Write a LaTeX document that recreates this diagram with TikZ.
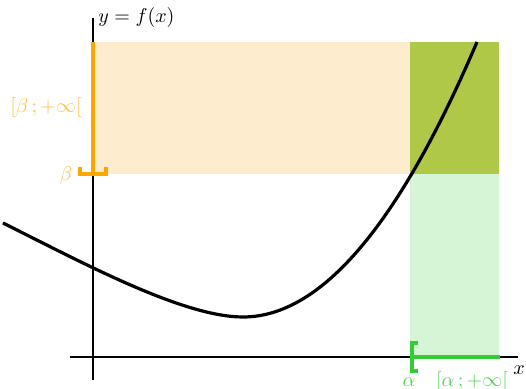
\documentclass[tikz,border=0pt]{standalone}
\usepackage{amsmath, amssymb}
\usepackage{xcolor}
\usetikzlibrary{positioning}

\definecolor{orangevif}{RGB}{255,165,0}
\definecolor{orangepale}{RGB}{254,236,206}
\definecolor{orangelab}{RGB}{255,190,80}
\definecolor{vertvif}{RGB}{50,205,50}
\definecolor{vertpale}{RGB}{214,245,214}
\definecolor{vertlab}{RGB}{90,210,90}
\definecolor{olivemix}{RGB}{176,200,72}

\begin{document}
\begin{tikzpicture}[
  x=0.5pt, y=0.5pt,
  axe/.style={line width=0.9pt},
  graphe/.style={line width=1.6pt},
  crochet/.style={line width=2pt},
  lab/.style={inner sep=1pt}
]
  \useasboundingbox (-93,-32) rectangle (433,357);

  \coordinate (O) at (0,0);
  \coordinate (A) at (319,0);
  \coordinate (B) at (0,183);
  \coordinate (debut) at (-90,134);
  \coordinate (mini) at (150,40);
  \coordinate (fin) at (384,315);

  % zones
  \fill[orangepale] (B) rectangle (317,315);
  \fill[olivemix] (317,183) rectangle (406,315);
  \fill[vertpale] (317,0) rectangle (406,183);

  % axes
  \draw[axe] (-23,0) -- (425,0);
  \draw[axe] (0,-23) -- (0,339);
  \node[lab, anchor=west] (fx) at (3,339) {$y=f(x)$};
  \node[lab] (xl) at (426,-13) {$x$};

  % intervalle beta
  \draw[crochet, orangevif] (0,315) -- (B);
  \draw[crochet, orangevif] (-13,190) -- (-13,183) -- (13,183) -- (13,190);
  \node[lab, text=orangelab] (b) at (-27,181) {$\beta$};
  \node[lab, text=orangelab] (bint) at (-47,249) {$[\beta\,;+\infty[$};

  % intervalle alpha
  \draw[crochet, vertvif] (A) -- (407,0);
  \draw[crochet, vertvif] (325,14) -- (319,14) -- (319,-14) -- (325,-14);
  \node[lab, text=vertlab] (a) at (316,-25) {$\alpha$};
  \node[lab, text=vertlab] (aint) at (379,-25) {$[\alpha\,;+\infty[$};

  % courbe
  \draw[graphe] (debut) .. controls (-10,94) and (90,40) .. (mini)
    .. controls (228,40) and (306,132) .. (fin);
\end{tikzpicture}
\end{document}
